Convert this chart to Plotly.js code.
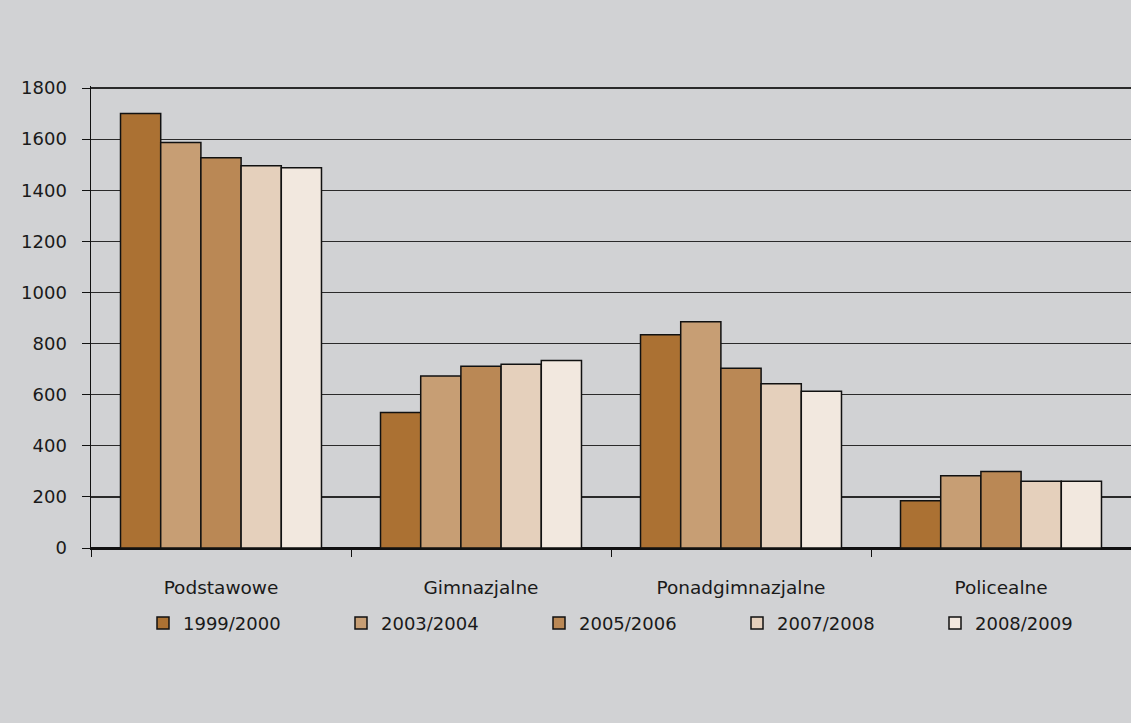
<!DOCTYPE html>
<html>
<head>
<meta charset="utf-8">
<script src="https://cdn.plot.ly/plotly-3.0.1.min.js"></script>
<style>html,body{margin:0;padding:0;background:#D1D2D4;}</style>
</head>
<body>
<div id="chart" style="width:1131px;height:723px;"></div>
<script>
const categories = ["Podstawowe", "Gimnazjalne", "Ponadgimnazjalne", "Policealne"];
const seriesNames = ["1999/2000", "2003/2004", "2005/2006", "2007/2008", "2008/2009"];
const v1999 = [1700, 530, 835, 185];
const v2003 = [1587, 673, 885, 283];
const v2005 = [1527, 711, 703, 299];
const v2007 = [1496, 719, 643, 261];
const v2008 = [1488, 734, 613, 261];
const seriesValues = [v1999, v2003, v2005, v2007, v2008];
const colors = ["#AB7133", "#C79E74", "#BA8855", "#E5D0BC", "#F2E8DF"];
const yTicks = [0, 200, 400, 600, 800, 1000, 1200, 1400, 1600, 1800];

const traces = seriesNames.map((n, i) => ({
  type: "bar",
  name: n,
  x: categories,
  y: seriesValues[i],
  marker: {color: colors[i], line: {color: "#111", width: 1.5}}
}));

const layout = {
  width: 1131, height: 723,
  paper_bgcolor: "#D1D2D4", plot_bgcolor: "#D1D2D4",
  margin: {l: 91, r: 0, t: 86, b: 175, autoexpand: false},
  barmode: "group", bargap: 0.227, bargroupgap: 0,
  font: {family: "DejaVu Sans, Verdana, sans-serif", size: 17, color: "#1a1a1a"},
  xaxis: {
    type: "category", tickson: "boundaries", ticks: "outside", ticklen: 7, tickcolor: "#111",
    showline: true, linecolor: "#111", linewidth: 1.5, ticklabelstandoff: 22,
    tickfont: {size: 18.5}, showgrid: false, automargin: false
  },
  yaxis: {
    range: [0, 1808], tickvals: yTicks, ticktext: yTicks.map(String),
    ticks: "outside", ticklen: 8, tickcolor: "#111",
    showline: true, linecolor: "#111", linewidth: 1.5,
    gridcolor: "#2a2a2a", gridwidth: 1.3, zeroline: true, zerolinecolor: "#111", zerolinewidth: 1.5,
    tickfont: {size: 18}, ticklabelstandoff: 11, automargin: false
  },
  showlegend: true,
  legend: {
    orientation: "h", x: 0.05, xanchor: "left", y: -0.163, yanchor: "middle",
    bgcolor: "rgba(0,0,0,0)", font: {size: 18},
    entrywidth: 153, entrywidthmode: "pixels", itemwidth: 30
  }
};

Plotly.newPlot("chart", traces, layout, {displayModeBar: false, staticPlot: true});
</script>
</body>
</html>
